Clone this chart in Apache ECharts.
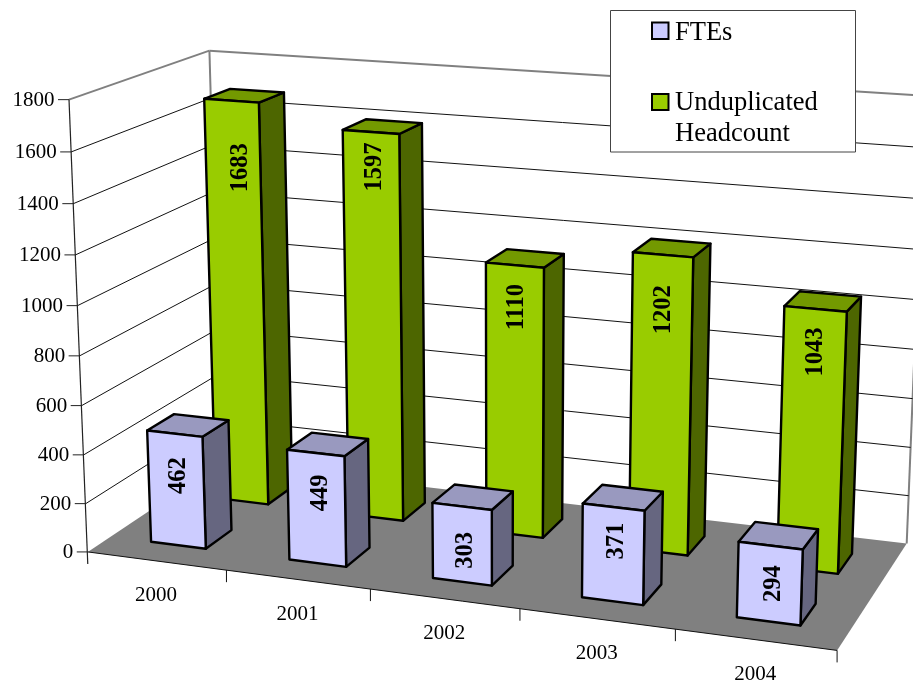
<!DOCTYPE html>
<html><head><meta charset="utf-8">
<style>html,body{margin:0;padding:0;background:#fff}#c{width:913px;height:682px}</style>
<script src="https://cdn.jsdelivr.net/npm/echarts@6/dist/echarts.min.js"></script>
</head><body><div id="c"></div>
<script>
const years = ['2000','2001','2002','2003','2004'];
const fteValues = [462,449,303,371,294];
const headcountValues = [1683,1597,1110,1202,1043];
const valueTicks = [0,200,400,600,800,1000,1200,1400,1600,1800];
const fteName = 'FTEs';
const headcountName = 'Unduplicated Headcount';

// layout: camera calibration (a along categories, b depth, h height fraction -> screen)
const CAL = [
 [0,0,0,88,552],[.2,0,0,227,570],[.4,0,0,370,589],[.6,0,0,520,609],[.8,0,0,675,630],[1,0,0,837,650],
 [0,0,1,69.5,99],[0,0,.2222,83.3,455],[0,1,1,209,51],[1,1,1,925,96],[1,1,0,907,543],[0,1,0,221,463]
];
function solveCamera(cal){
  const S=500,n=11,A=[...Array(n)].map(()=>Array(n+1).fill(0));
  const add=(r,y)=>{for(let i=0;i<n;i++){for(let j=0;j<n;j++)A[i][j]+=r[i]*r[j];A[i][n]+=r[i]*y;}};
  cal.forEach(([X,Y,Z,u0,v0])=>{const u=u0/S,v=v0/S;
    add([X,Y,Z,1,0,0,0,0,-u*X,-u*Y,-u*Z],u);
    add([0,0,0,0,X,Y,Z,1,-v*X,-v*Y,-v*Z],v);});
  for(let c=0;c<n;c++){let p=c;for(let r=c+1;r<n;r++)if(Math.abs(A[r][c])>Math.abs(A[p][c]))p=r;
    [A[c],A[p]]=[A[p],A[c]];
    for(let r=0;r<n;r++){if(r===c)continue;const f=A[r][c]/A[c][c];for(let k=c;k<=n;k++)A[r][k]-=f*A[c][k];}}
  const m=A.map((row,i)=>row[n]/row[i]);
  return (a,b,h)=>{const w=m[8]*a+m[9]*b+m[10]*h+1;
    return [S*(m[0]*a+m[1]*b+m[2]*h+m[3])/w,S*(m[4]*a+m[5]*b+m[6]*h+m[7])/w];};
}
const P = solveCamera(CAL);
const W=913,H=682;
const FONT='"Liberation Serif","Times New Roman",serif';
const GREY='#808080';
const line=(p,q,stroke,w)=>({type:'line',shape:{x1:p[0],y1:p[1],x2:q[0],y2:q[1]},style:{stroke,lineWidth:w}});
const poly=(pts,fill,stroke,w)=>({type:'polygon',shape:{points:pts},style:{fill,stroke:stroke||null,lineWidth:w||0,lineJoin:'round'}});
const text=(t,x,y,size,opt)=>Object.assign({type:'text',x,y,style:{text:t,x:0,y:0,fill:'#000',font:(opt&&opt.bold?'bold ':'')+size+'px '+FONT,align:(opt&&opt.align)||'center',verticalAlign:'middle'}},opt&&opt.rot?{rotation:opt.rot}:{});

// world position from the library's axis scales
const hOf=(api,v)=>1-api.coord([0,v])[1]/H;
const aOf=(api,i)=>api.coord([i,0])[0]/W;

function renderFrame(){
  const TICK=12;
  const fl=P(0,0,0),fr=P(1,0,0),bl=P(0,1,0),br=P(1,1,0);
  return {type:'group',children:[
    poly([P(0,0,1),P(0,1,1),P(1,1,1),P(1,1,0),P(0,1,0),P(0,0,0)],'#fff'),
    poly([fl,fr,br,bl],GREY),
    line(P(0,0,1),P(0,1,1),GREY,2),
    line(P(0,1,1),P(1,1,1),GREY,2),
    line(P(0,1,1),bl,GREY,2),
    line(P(1,1,1),br,GREY,2),
    line(fl,fr,'#111',1),
    line(fr,[fr[0],fr[1]+TICK],'#111',1),
    line(P(0,0,1),[fl[0],fl[1]+TICK],'#222',1.2)
  ]};
}
function renderValueTick(p,api){
  const v=api.value(1),h=hOf(api,v),o=P(0,0,h),kids=[];
  kids.push(line([o[0]-11,o[1]],o,'#222',1));
  kids.push(text(String(v),o[0]-14.5,o[1]+1,21,{align:'right'}));
  if(v>0&&v<1800){
    kids.push(line(o,P(0,1,h),'#111',1));
    kids.push(line(P(0,1,h),P(1,1,h),'#111',1));
  }
  return {type:'group',children:kids};
}
function renderCategory(p,api){
  const i=api.value(0),c=aOf(api,i),half=.1;
  const left=P(c-half,0,0),mid=P(c,0,0);
  const kids=[text(years[i],(left[0]+P(c+half,0,0)[0])/2-1,mid[1]+34.5,21)];
  if(i>0) kids.push(line(left,[left[0],left[1]+12],'#111',1));
  return {type:'group',children:kids};
}
function barRenderer(b0,b1,aShift,front,top,side,drops,shifts){
  const HALF=.04;
  return function(p,api){
    const i=api.value(0),v=api.value(1),c=aOf(api,i)+aShift,h=hOf(api,v);
    const a0=c-HALF,a1=c+HALF;
    const f00=P(a0,b0,0),f10=P(a1,b0,0),r10=P(a1,b1,0);
    const f01=P(a0,b0,h),f11=P(a1,b0,h),r11=P(a1,b1,h),r01=P(a0,b1,h);
    return {type:'group',children:[
      poly([f10,r10,r11,f11],side,'#000',2.4),
      poly([f01,f11,r11,r01],top,'#000',2.4),
      poly([f00,f10,f11,f01],front,'#000',2.4),
      text(String(v),(f01[0]+f11[0])/2+shifts[i],(f01[1]+f11[1])/2+drops[i],24.5,{bold:true,rot:Math.PI/2})
    ]};
  };
}
const custom=(name,data,renderItem,z)=>({type:'custom',name,coordinateSystem:'cartesian2d',data,renderItem,z,clip:false,silent:true,animation:false});

// label placement along each bar (px below top edge, px right of centre)
const fteDrop=[42,40,44,34,38], fteShift=[4,4.5,3.5,3,3];
const hcDrop=[67,35,42,55,43], hcShift=[9,4,2,1,0];

const option={
  animation:false,
  backgroundColor:'#fff',
  grid:{left:0,right:0,top:0,bottom:0},
  xAxis:{type:'category',data:years,show:false},
  yAxis:{type:'value',min:0,max:1800,interval:200,show:false},
  series:[
    custom('frame',[[0,0]],renderFrame,1),
    custom('ticks',valueTicks.map(v=>[0,v]),renderValueTick,2),
    custom('categories',years.map((y,i)=>[i,0]),renderCategory,3),
    custom(headcountName,headcountValues.map((v,i)=>[i,v]),barRenderer(.64,.84,.001,'#99CC00','#739900','#4D6600',hcDrop,hcShift),4),
    custom(fteName,fteValues.map((v,i)=>[i,v]),barRenderer(.16,.355,-.0005,'#CCCCFF','#9999BF','#666680',fteDrop,fteShift),5)
  ],
  graphic:[
    {type:'rect',z:20,shape:{x:610.5,y:10.5,width:245,height:141.5},style:{fill:'#fff',stroke:'#444',lineWidth:1}},
    {type:'rect',z:21,shape:{x:652,y:22.5,width:16.5,height:16.5},style:{fill:'#CCCCFF',stroke:'#000',lineWidth:2}},
    {type:'text',z:21,x:675,y:33,style:{text:fteName,font:'26.5px '+FONT,fill:'#000',verticalAlign:'middle'}},
    {type:'rect',z:21,shape:{x:652,y:94,width:16.5,height:16},style:{fill:'#99CC00',stroke:'#000',lineWidth:2}},
    {type:'text',z:21,x:675,y:103.5,style:{text:'Unduplicated',font:'26.5px '+FONT,fill:'#000',verticalAlign:'middle'}},
    {type:'text',z:21,x:675,y:134.5,style:{text:'Headcount',font:'26.5px '+FONT,fill:'#000',verticalAlign:'middle'}}
  ]
};
echarts.init(document.getElementById('c'),null,{renderer:'canvas'}).setOption(option);
</script></body></html>
